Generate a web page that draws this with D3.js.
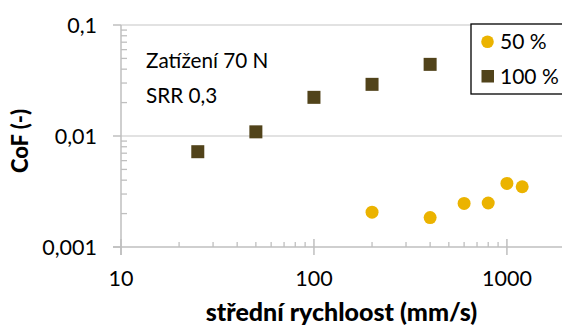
<!DOCTYPE html>
<html><head><meta charset="utf-8">
<script src="https://cdn.jsdelivr.net/npm/d3@7"></script>
<style>body{margin:0;background:#fff}svg{display:block;font-family:Lato,"Open Sans",sans-serif}</style>
</head><body><svg id="c" width="562" height="329"></svg>
<script>
const speeds50 = [200, 400, 600, 800, 1000, 1200];
const cof50 = [0.00206, 0.00184, 0.00247, 0.00249, 0.00374, 0.00349];
const speeds100 = [25, 50, 100, 200, 400];
const cof100 = [0.00722, 0.0109, 0.0223, 0.0292, 0.0442];
const yTicks = [0.001, 0.01, 0.1];
const yTickLabels = ["0,001", "0,01", "0,1"];
const xTicks = [10, 100, 1000];
const xTickLabels = ["10", "100", "1000"];
const seriesNames = ["50 %", "100 %"];
const notes = ["Zatížení 70 N", "SRR 0,3"];
const xTitle = "střední rychloost (mm/s)";
const yTitle = "CoF (-)";

const svg = d3.select("#c");
const x = d3.scaleLog().domain([10, 2000]).range([121, 565]);
const y = d3.scaleLog().domain([0.001, 0.1]).range([247, 25]);
const axisCol = "#bfbfbf", gridCol = "#d9d9d9";
const col50 = "#EBB300", col100 = "#51431A";

// minor ticks
const minorX = [], minorY = [];
[10, 100, 1000].forEach(d => { for (let k = 2; k <= 9; k++) if (d * k <= 2000) minorX.push(d * k); });
[0.001, 0.01].forEach(d => { for (let k = 2; k <= 9; k++) minorY.push(d * k); });

// gridlines
svg.append("g").selectAll("line").data(yTicks.slice(1)).join("line")
  .attr("x1", x(10)).attr("x2", 562).attr("y1", d => y(d)).attr("y2", d => y(d))
  .attr("stroke", gridCol).attr("stroke-width", 1.3);

// x axis
const gx = svg.append("g").attr("transform", `translate(0,${y(0.001)})`);
gx.append("line").attr("x1", x(10) - 8).attr("x2", 562).attr("stroke", axisCol).attr("stroke-width", 1.5);
gx.selectAll(".mj").data(xTicks).join("line").attr("class", "mj")
  .attr("x1", d => x(d)).attr("x2", d => x(d)).attr("y1", -8).attr("y2", 8)
  .attr("stroke", axisCol).attr("stroke-width", 1.5);
gx.selectAll(".mn").data(minorX).join("line").attr("class", "mn")
  .attr("x1", d => x(d)).attr("x2", d => x(d)).attr("y1", -5).attr("y2", 0)
  .attr("stroke", axisCol).attr("stroke-width", 1.3);
gx.selectAll("text").data(xTicks).join("text")
  .attr("x", d => x(d)).attr("y", 39).attr("text-anchor", "middle")
  .attr("font-size", 21.5).attr("fill", "#000").text((d, i) => xTickLabels[i]);

// y axis
const gy = svg.append("g").attr("transform", `translate(${x(10)},0)`);
gy.append("line").attr("y1", y(0.1)).attr("y2", y(0.001) + 8).attr("stroke", axisCol).attr("stroke-width", 1.5);
gy.selectAll(".mj").data(yTicks).join("line").attr("class", "mj")
  .attr("x1", -8).attr("x2", 0).attr("y1", d => y(d)).attr("y2", d => y(d))
  .attr("stroke", axisCol).attr("stroke-width", 1.5);
gy.selectAll(".mn").data(minorY).join("line").attr("class", "mn")
  .attr("x1", 0).attr("x2", 6).attr("y1", d => y(d)).attr("y2", d => y(d))
  .attr("stroke", axisCol).attr("stroke-width", 1.3);
gy.selectAll("text").data(yTicks).join("text")
  .attr("x", -24).attr("y", d => y(d)).attr("dy", "0.35em").attr("text-anchor", "end")
  .attr("font-size", 21.5).attr("fill", "#000").text((d, i) => yTickLabels[i]);

// titles
svg.append("text").attr("x", (x(10) + 562) / 2).attr("y", 321).attr("text-anchor", "middle")
  .attr("font-size", 25).attr("font-weight", 900).text(xTitle);
svg.append("text").attr("transform", "translate(28,141) rotate(-90)").attr("text-anchor", "middle")
  .attr("font-size", 22).attr("font-weight", 900).text(yTitle);

// notes
svg.selectAll(".note").data(notes).join("text").attr("class", "note")
  .attr("x", 146).attr("y", (d, i) => 68 + i * 35).attr("font-size", 20.7).text(d => d);

// data
svg.append("g").selectAll("rect").data(speeds100).join("rect")
  .attr("x", d => x(d) - 6.5).attr("y", (d, i) => y(cof100[i]) - 6.5)
  .attr("width", 13).attr("height", 13).attr("fill", col100);
svg.append("g").selectAll("circle").data(speeds50).join("circle")
  .attr("cx", d => x(d)).attr("cy", (d, i) => y(cof50[i])).attr("r", 6.5).attr("fill", col50);

// legend
const lg = svg.append("g");
lg.append("rect").attr("x", 471).attr("y", 24).attr("width", 100).attr("height", 70)
  .attr("fill", "#fff").attr("stroke", "#000").attr("stroke-width", 1.3);
lg.append("circle").attr("cx", 487.5).attr("cy", 41.7).attr("r", 6.3).attr("fill", col50);
lg.append("rect").attr("x", 481.5).attr("y", 70).attr("width", 12.5).attr("height", 12.5).attr("fill", col100);
lg.selectAll("text").data(seriesNames).join("text")
  .attr("x", 500).attr("y", (d, i) => 41.7 + i * 34.6).attr("dy", "0.35em")
  .attr("font-size", 21).text(d => d);
</script></body></html>
